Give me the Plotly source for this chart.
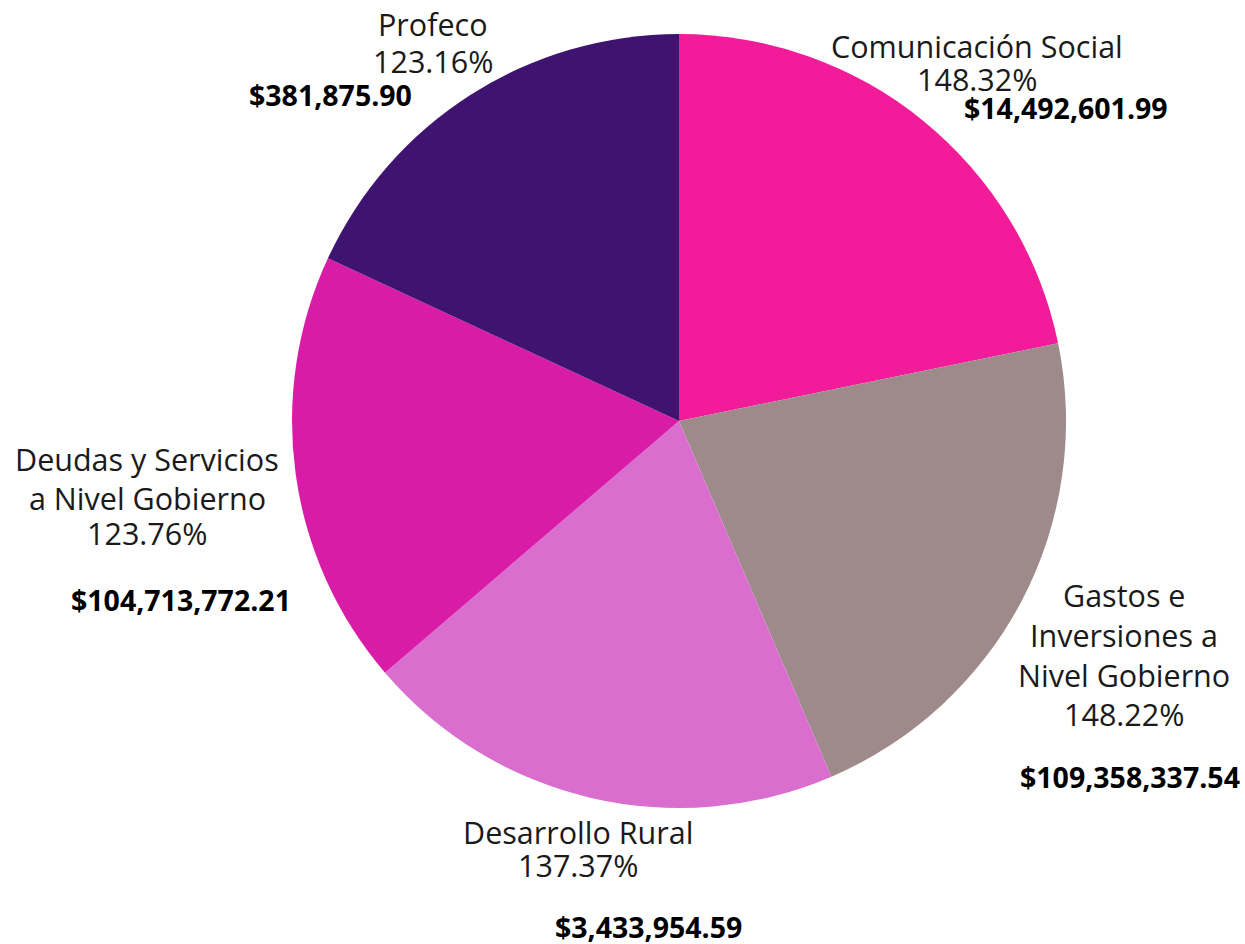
import plotly.graph_objects as go

# ── Data ────────────────────────────────────────────────
categories = [
    "Comunicación Social",
    "Gastos e Inversiones a Nivel Gobierno",
    "Desarrollo Rural",
    "Deudas y Servicios a Nivel Gobierno",
    "Profeco",
]
label_lines = [
    ["Comunicación Social"],
    ["Gastos e", "Inversiones a", "Nivel Gobierno"],
    ["Desarrollo Rural"],
    ["Deudas y Servicios", "a Nivel Gobierno"],
    ["Profeco"],
]
percentages = [148.32, 148.22, 137.37, 123.76, 123.16]
amounts = [
    "$14,492,601.99",
    "$109,358,337.54",
    "$3,433,954.59",
    "$104,713,772.21",
    "$381,875.90",
]

COLORS = ["#F21C9A", "#9E8A8A", "#D96ECE", "#D81CA7", "#3F1370"]
W, H = 1245, 944
FONT = "Open Sans, sans-serif"

# text placement (px from top-left): label centre x, y of each line (name lines + pct)
label_x = [977, 1124, 578, 147, 433]
label_ys = [
    [46, 79],
    [595, 635, 675, 714],
    [832, 865],
    [459, 498, 533],
    [24, 61],
]
amount_pos = [(1066, 108), (1130, 777), (648, 927), (181, 600), (330, 95)]

cx, cy, r = 679, 421, 387

fig = go.Figure(
    go.Pie(
        labels=categories,
        values=percentages,
        sort=False,
        direction="clockwise",
        rotation=0,
        marker=dict(colors=COLORS, line=dict(width=0)),
        textinfo="none",
        hoverinfo="label+value",
        domain=dict(
            x=[(cx - r) / W, (cx + r) / W],
            y=[1 - (cy + r) / H, 1 - (cy - r) / H],
        ),
        showlegend=False,
    )
)

annotations = []
for lines, pct, lx, ys in zip(label_lines, percentages, label_x, label_ys):
    for txt, ly in zip(lines + [f"{pct:.2f}%"], ys):
        annotations.append(
            dict(
                text=txt,
                x=lx / W, y=1 - ly / H, xref="paper", yref="paper",
                xanchor="center", yanchor="middle", showarrow=False,
                font=dict(family=FONT, size=30.5, color="#1a1a1a"),
            )
        )
for amt, (ax, ay) in zip(amounts, amount_pos):
    annotations.append(
        dict(
            text=f"<b>{amt}</b>",
            x=ax / W, y=1 - ay / H, xref="paper", yref="paper",
            xanchor="center", yanchor="middle", showarrow=False,
            font=dict(family=FONT, size=28.5, color="#000000"),
        )
    )

fig.update_layout(
    width=W,
    height=H,
    margin=dict(l=0, r=0, t=0, b=0),
    paper_bgcolor="white",
    plot_bgcolor="white",
    annotations=annotations,
)

fig.write_html(
    "out.html",
    config={"displayModeBar": False},
    post_script="document.body.style.margin='0';document.body.style.overflow='hidden';",
)
